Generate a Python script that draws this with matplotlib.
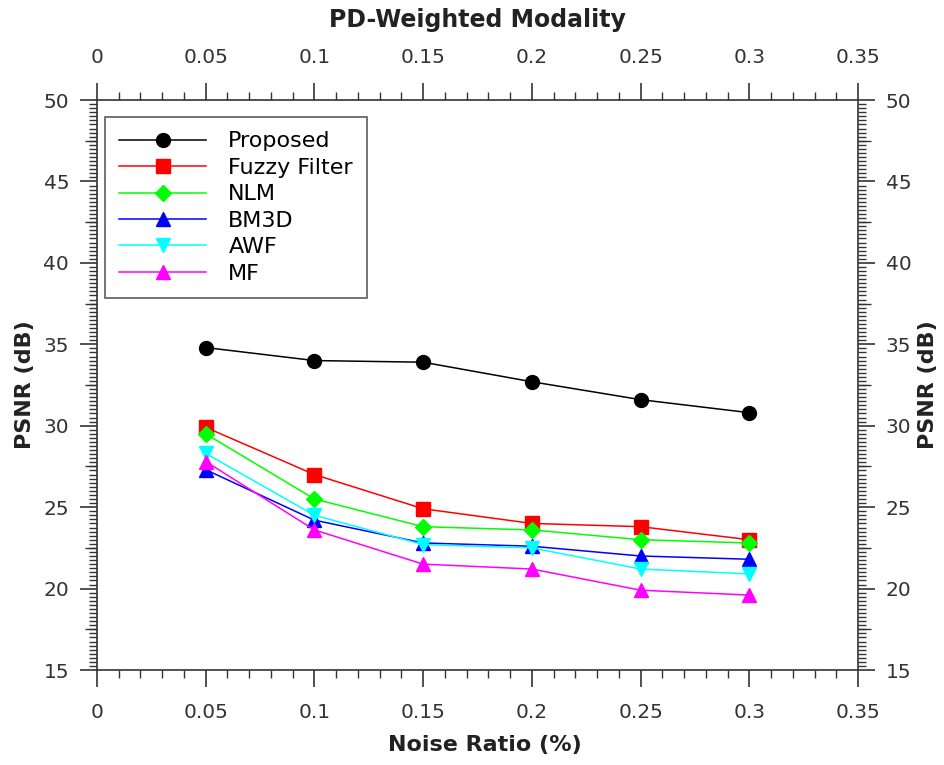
import matplotlib
matplotlib.use("Agg")
import matplotlib.pyplot as plt
from matplotlib.ticker import MultipleLocator

noise = [0.05, 0.1, 0.15, 0.2, 0.25, 0.3]
proposed = [34.8, 34.0, 33.9, 32.7, 31.6, 30.8]
fuzzy = [29.9, 27.0, 24.9, 24.0, 23.8, 23.0]
nlm = [29.5, 25.5, 23.8, 23.6, 23.0, 22.8]
bm3d = [27.3, 24.2, 22.8, 22.6, 22.0, 21.8]
awf = [28.3, 24.5, 22.7, 22.5, 21.2, 20.9]
mf = [27.8, 23.6, 21.5, 21.2, 19.9, 19.6]

series = [
    ("Proposed", proposed, "black", "o"),
    ("Fuzzy Filter", fuzzy, "red", "s"),
    ("NLM", nlm, "#00ff00", "D"),
    ("BM3D", bm3d, "blue", "^"),
    ("AWF", awf, "cyan", "v"),
    ("MF", mf, "magenta", "^"),
]

W, H = 945, 765
fig = plt.figure(figsize=(W / 100, H / 100), dpi=100)
ax = fig.add_axes([97 / W, 1 - 670 / H, (858 - 97) / W, (670 - 100) / H])

for name, vals, col, mk in series:
    ms = 8 if mk == "D" else 10
    ax.plot(noise, vals, color=col, marker=mk, markersize=ms, linewidth=1.1, label=name)

ax.set_xlim(0, 0.35)
ax.set_ylim(15, 50)
ax.xaxis.set_major_locator(MultipleLocator(0.05))
ax.xaxis.set_minor_locator(MultipleLocator(0.01))
ax.yaxis.set_major_locator(MultipleLocator(5))
ax.yaxis.set_minor_locator(MultipleLocator(0.25))
ax.xaxis.set_major_formatter(plt.FuncFormatter(lambda v, p: f"{v:g}"))

tick_col = "#333333"
ax.tick_params(which="both", direction="out", top=True, right=True,
               labeltop=True, labelright=True, colors=tick_col, labelsize=14.5)
ax.tick_params(which="major", length=12, width=1.2)
ax.tick_params(which="minor", length=6, width=1)
ax.tick_params(axis="x", which="major", pad=12)
ax.tick_params(axis="y", which="major", pad=8)
for s in ax.spines.values():
    s.set_color(tick_col)
    s.set_linewidth(1.2)

# medium ticks at the half-way marks of the y axis
mid_ticks = [17.5, 22.5, 27.5, 32.5, 37.5, 42.5, 47.5]
for side in ("left", "right"):
    sec = ax.secondary_yaxis(side)
    sec.set_yticks(mid_ticks)
    sec.set_yticklabels([])
    sec.tick_params(direction="out", length=9, width=1, colors=tick_col)
    sec.spines[side].set_visible(False)

txt_col = "#222222"
fig.text(485 / W, 1 - 745 / H, "Noise Ratio (%)", ha="center", va="center",
         fontsize=16, fontweight="bold", color=txt_col)
fig.text(25 / W, 1 - 385 / H, "PSNR (dB)", ha="center", va="center", rotation=90,
         fontsize=16, fontweight="bold", color=txt_col)
fig.text(928 / W, 1 - 385 / H, "PSNR (dB)", ha="center", va="center", rotation=90,
         fontsize=16, fontweight="bold", color=txt_col)
fig.text(477 / W, 1 - 20 / H, "PD-Weighted Modality", ha="center", va="center",
         fontsize=17, fontweight="bold", color=txt_col)

leg = ax.legend(loc="upper left", bbox_to_anchor=((105 - 97) / 761, 1 - (117 - 100) / 570),
                fontsize=16, frameon=True, fancybox=False, edgecolor=tick_col,
                borderpad=0.65, labelspacing=0.29, handlelength=3.9,
                handletextpad=1.0, borderaxespad=0)
leg.get_frame().set_linewidth(1.2)

fig.savefig("out.png", dpi=100)
